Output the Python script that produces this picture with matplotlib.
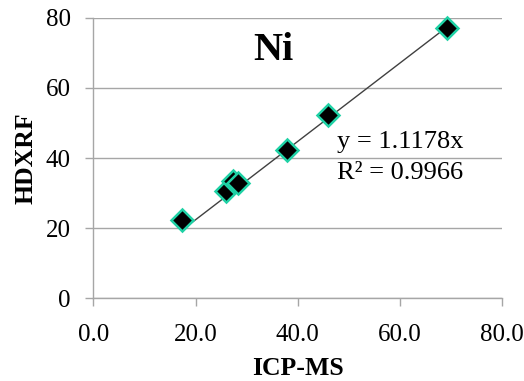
import matplotlib
matplotlib.use("Agg")
import matplotlib.pyplot as plt
import numpy as np

icp_ms = [17.4, 26.0, 27.4, 28.4, 37.9, 46.0, 69.2]
hdxrf = [22.3, 30.7, 33.5, 33.0, 42.3, 52.2, 77.1]
slope = 1.1178
r2 = 0.9966
x_ticks = [0, 20, 40, 60, 80]
y_ticks = [0, 20, 40, 60, 80]

plt.rcParams['font.family'] = ['Liberation Serif', 'DejaVu Serif']

fig = plt.figure(figsize=(5.24, 3.81), dpi=100)
ax = fig.add_axes([0.1784, 0.2178, 0.9575 - 0.1784, 0.9528 - 0.2178])

ax.set_xlim(0, 80)
ax.set_ylim(0, 80)
ax.set_xticks(x_ticks)
ax.set_xticklabels([f"{v:.1f}" for v in x_ticks])
ax.set_yticks(y_ticks)
ax.set_yticklabels([f"{v}" for v in y_ticks])

ax.yaxis.grid(True, color='#a6a6a6', linewidth=1.0)
ax.set_axisbelow(True)
for s in ['top', 'right']:
    ax.spines[s].set_visible(False)
for s in ['left', 'bottom']:
    ax.spines[s].set_color('#a6a6a6')
    ax.spines[s].set_linewidth(1.0)
ax.tick_params(axis='both', colors='#a6a6a6', labelcolor='black', length=5.5,
               width=1.0, labelsize=18)
ax.tick_params(axis='x', pad=13)
ax.tick_params(axis='y', pad=11)

xs = np.array([min(icp_ms), max(icp_ms)])
ax.plot(xs, slope * xs, color='#404040', linewidth=1.0, zorder=2)
ax.plot(icp_ms, hdxrf, linestyle='none', marker='D', markersize=11,
        markerfacecolor='black', markeredgecolor='#1fd1a5',
        markeredgewidth=1.8, zorder=3, clip_on=False)

ax.text(47.7, 42.9, f"y = {slope}x", fontsize=19, ha='left', va='baseline')
ax.text(47.7, 34.0, f"R² = {r2}", fontsize=19, ha='left', va='baseline')
ax.text(0.44, 0.885, "Ni", transform=ax.transAxes, fontsize=29,
        fontweight='bold', ha='center', va='center')

ax.set_xlabel("ICP-MS", fontsize=18.5, fontweight='bold', labelpad=8)
ax.set_ylabel("HDXRF", fontsize=18.5, fontweight='bold', labelpad=6)

fig.savefig("out.png", dpi=100)
